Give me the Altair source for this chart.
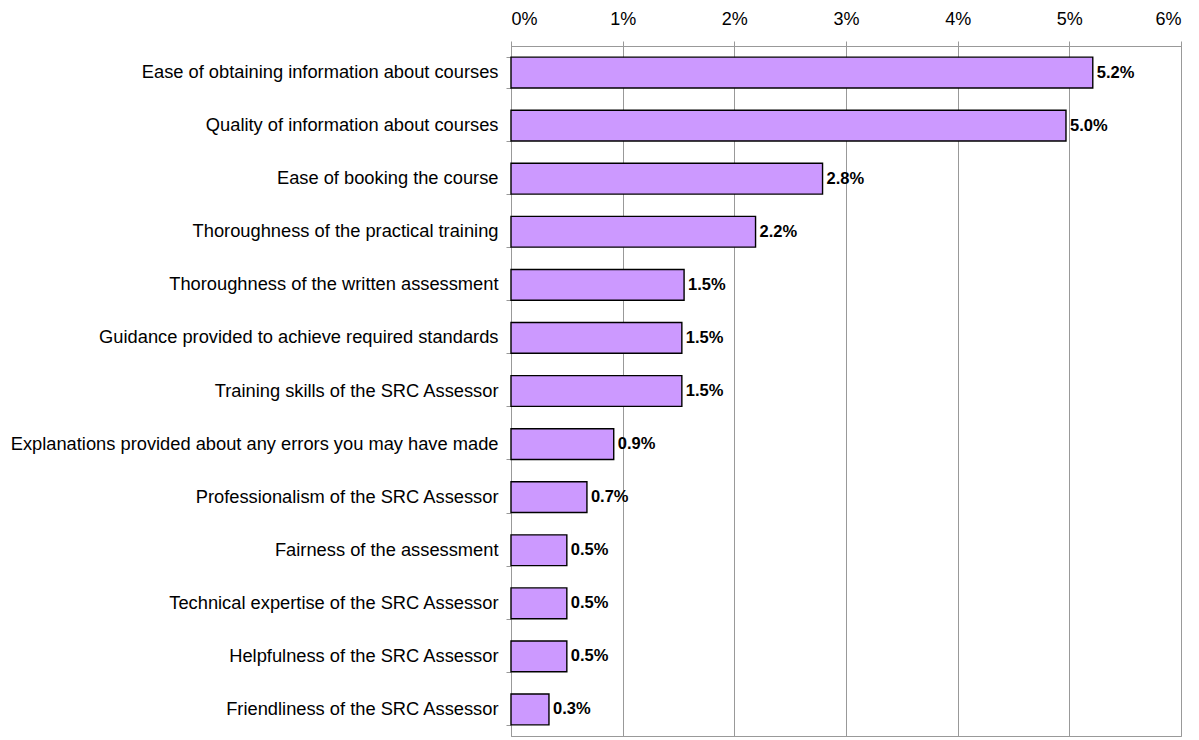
import altair as alt
import pandas as pd

categories = [
    "Ease of obtaining information about courses",
    "Quality of information about courses",
    "Ease of booking the course",
    "Thoroughness of the practical training",
    "Thoroughness of the written assessment",
    "Guidance provided to achieve required standards",
    "Training skills of the SRC Assessor",
    "Explanations provided about any errors you may have made",
    "Professionalism of the SRC Assessor",
    "Fairness of the assessment",
    "Technical expertise of the SRC Assessor",
    "Helpfulness of the SRC Assessor",
    "Friendliness of the SRC Assessor",
]
values = [0.0521, 0.0497, 0.0279, 0.0219, 0.0155, 0.0153, 0.0153, 0.0092, 0.0068, 0.0050, 0.0050, 0.0050, 0.0034]
labels = ["5.2%", "5.0%", "2.8%", "2.2%", "1.5%", "1.5%", "1.5%", "0.9%", "0.7%", "0.5%", "0.5%", "0.5%", "0.3%"]

df = pd.DataFrame({"cat": categories, "val": values, "lab": labels})

FONT = "Liberation Sans"
GRAY = "#999999"

y_enc = alt.Y("cat:N", sort=categories, title=None,
              scale=alt.Scale(paddingInner=0.42, paddingOuter=0.21),
              axis=alt.Axis(labelFont=FONT, labelFontSize=18.3, labelColor="black",
                            labelPadding=8, domainColor=GRAY, tickColor=GRAY,
                            tickSize=5, tickBand="extent", labelLimit=700))

x_enc = alt.X("val:Q", title=None,
              scale=alt.Scale(domain=[0, 0.06], nice=False),
              axis=alt.Axis(orient="top", format=".0%", values=[0, 0.01, 0.02, 0.03, 0.04, 0.05, 0.06],
                            labelFont=FONT, labelFontSize=18, labelColor="black",
                            domainColor=GRAY, tickColor=GRAY, tickSize=5,
                            gridColor=GRAY, gridWidth=1, labelPadding=13))

bars = alt.Chart(df).mark_bar(color="#CC99FF", stroke="black", strokeWidth=1.4).encode(
    x=x_enc, y=y_enc
)

text = alt.Chart(df).mark_text(align="left", baseline="middle", dx=4, font=FONT,
                               fontSize=16.5, fontWeight="bold", color="black").encode(
    x=alt.X("val:Q"), y=alt.Y("cat:N", sort=categories), text="lab:N"
)

chart = (bars + text).properties(
    width=670, height=690,
    autosize=alt.AutoSizeParams(type="none"),
    padding={"left": 503, "top": 38, "right": 10, "bottom": 2},
).configure_view(stroke=GRAY, strokeWidth=1).configure_axisY(grid=False)

chart.save("out.html", embed_options={"renderer": "svg", "actions": False})
